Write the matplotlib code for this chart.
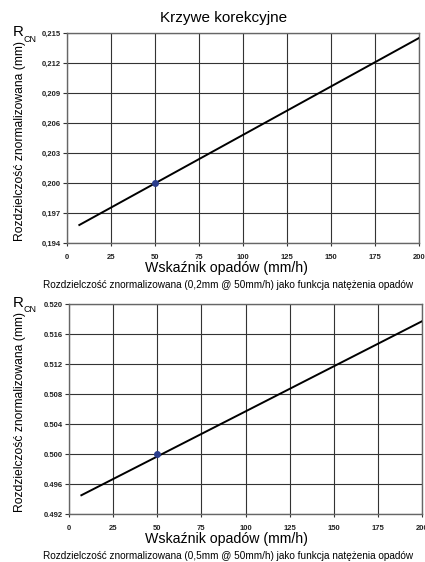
import numpy as np
import matplotlib.pyplot as plt
from matplotlib.ticker import FuncFormatter

plt.rcParams['font.family'] = ['Liberation Sans', 'DejaVu Sans']

# --- data ---
rate = [7, 200]                      # mm/h, line ends
res_02 = [0.1958, 0.2145]            # 0,2 mm curve
res_05 = [0.4945, 0.5177]            # 0.5 mm curve
ref_rate = [50]
ref_02 = [0.200]
ref_05 = [0.500]

xticks = [0, 25, 50, 75, 100, 125, 150, 175, 200]
yticks_02 = [0.194, 0.197, 0.200, 0.203, 0.206, 0.209, 0.212, 0.215]
yticks_05 = [0.492, 0.496, 0.500, 0.504, 0.508, 0.512, 0.516, 0.520]

captions = ['Rozdzielczość znormalizowana (0,2mm @ 50mm/h) jako funkcja natężenia opadów',
            'Rozdzielczość znormalizowana (0,5mm @ 50mm/h) jako funkcja natężenia opadów']

fig = plt.figure(figsize=(4.25, 5.62), dpi=100)
W, H = 425, 562


def px(x, y):
    return x / W, 1 - y / H


def panel(rect, x, y, pxs, pys, yticks, comma, caption):
    l, t, r, b = rect
    ax = fig.add_axes([l / W, 1 - b / H, (r - l) / W, (b - t) / H])
    ax.plot(x, y, color='black', lw=1.4, zorder=3)
    ax.plot(pxs, pys, 'o', color='#2b3d8c', ms=4, zorder=4)
    ax.set_xlim(0, 200)
    ax.set_ylim(yticks[0], yticks[-1])
    ax.set_xticks(xticks)
    ax.set_yticks(yticks)
    if comma:
        ax.yaxis.set_major_formatter(FuncFormatter(lambda v, p: f'{v:.3f}'.replace('.', ',')))
    else:
        ax.yaxis.set_major_formatter(FuncFormatter(lambda v, p: f'{v:.3f}'))
    ax.grid(True, color='#333333', lw=0.8)
    for s in ax.spines.values():
        s.set_color('#666666')
        s.set_linewidth(1.0)
    ax.tick_params(axis='x', length=2, width=0.8, pad=6, labelsize=5.5, color='#333333')
    ax.tick_params(axis='y', length=3, width=0.8, pad=1.5, labelsize=5.5, color='#333333')
    for lab in ax.get_xticklabels() + ax.get_yticklabels():
        lab.set_fontweight('bold')
        lab.set_color('#222222')
    # axis titles placed by pixel
    fig.text(*px(20, (t + b) / 2 + 3), 'Rozdzielczość znormalizowana (mm)', fontsize=8.7,
             rotation=90, ha='center', va='center')
    fig.text(*px(226, b + 25), 'Wskaźnik opadów (mm/h)', fontsize=10.2, ha='center', va='center')
    fig.text(*px(228, b + 42), caption, fontsize=7.2, ha='center', va='center')
    fig.text(*px(12.5, t - 1), 'R', fontsize=10.8, ha='left', va='center')
    fig.text(*px(23, t + 6), 'CN', fontsize=6.5, ha='left', va='center')
    return ax


panel((67, 33, 419, 243), rate, res_02, ref_rate, ref_02, yticks_02, True, captions[0])
panel((69, 304, 422, 514), rate, res_05, ref_rate, ref_05, yticks_05, False, captions[1])

fig.text(*px(224, 18), 'Krzywe korekcyjne', fontsize=11, ha='center', va='center')

fig.savefig('out.png', dpi=100)
